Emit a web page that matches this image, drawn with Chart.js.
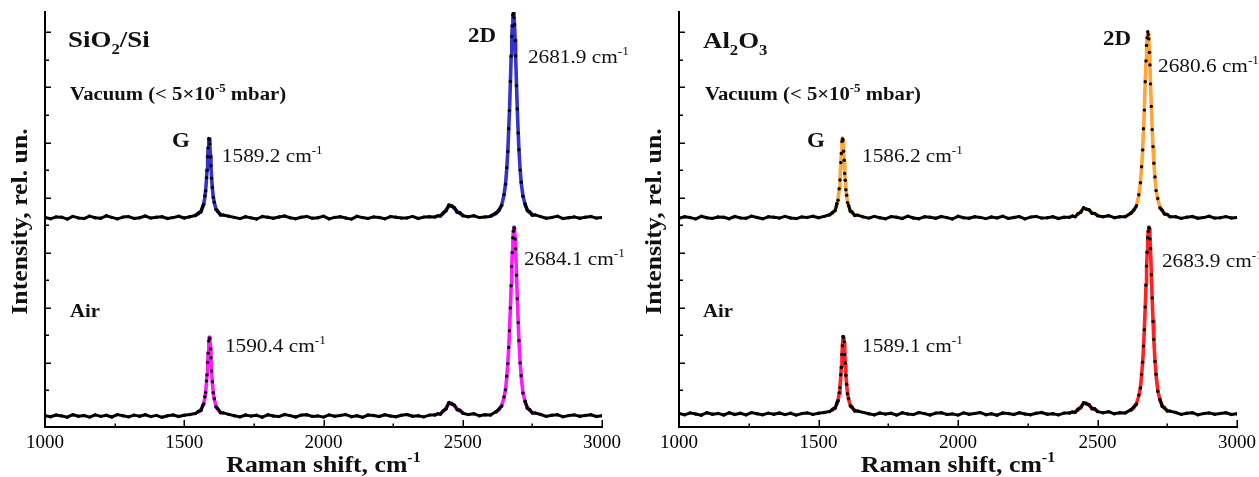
<!DOCTYPE html>
<html>
<head>
<meta charset="utf-8">
<script src="https://cdn.jsdelivr.net/npm/chart.js@4.4.1/dist/chart.umd.min.js"></script>
<style>
  html, body { margin: 0; padding: 0; background: #fff; }
  #wrap { position: relative; width: 1259px; height: 477px; overflow: hidden; }
  #cl { position: absolute; left: 0; top: 0; }
  #cr { position: absolute; left: 640px; top: 0; }
</style>
</head>
<body>
<div id="wrap">
  <canvas id="cl" width="640" height="477"></canvas>
  <canvas id="cr" width="619" height="477"></canvas>
</div>
<script>
// ---------------- DATA ----------------
// Raman shift grid of the measured spectra (cm-1)
const shift = [
  1000,1020,1040,1060,1080,1100,1120,1140,1160,1180,1200,1220,1240,1260,1280,1300,1320,1340,1360,1380,1400,1420,1440,1460,1480,1500,1520,1540,
  1550,1560,1566,1570,1574,1577,1580,1582,1584,1586,1588,1590,1592,1594,1596,1598,1601,1604,1608,1614,1620,1630,1640,
  1660,1680,1700,1720,1740,1760,1780,1800,1820,1840,1860,1880,1900,1920,1940,1960,1980,2000,2020,2040,2060,2080,2100,2120,2140,2160,2180,2200,2220,2240,2260,2280,2300,2320,2340,2360,2380,2400,
  2410,2420,2430,2440,2450,2460,2470,2480,2490,2500,
  2520,2540,2560,2580,2600,2620,
  2630,2640,2648,2654,2658,2662,2665,2668,2671,2674,2676,2678,2680,2682,2684,2686,2688,2690,2693,2696,2699,2702,2706,2710,2716,2724,2732,2740,2750,2760,
  2780,2800,2820,2840,2860,2880,2900,2920,2940,2960,2980,3000
];
// Raman shift grid of the fitted curves (cm-1)
const fitShift = [
  1000,1540,
  1550,1560,1566,1570,1574,1577,1580,1582,1584,1586,1588,1590,1592,1594,1596,1598,1601,1604,1608,1614,1620,1630,1640,
  1660,2380,2400,
  2410,2420,2430,2440,2450,2460,2470,2480,2490,2500,
  2520,2540,2560,2580,2600,2620,
  2630,2640,2648,2654,2658,2662,2665,2668,2671,2674,2676,2678,2680,2682,2684,2686,2688,2690,2693,2696,2699,2702,2706,2710,2716,2724,2732,2740,2750,2760,
  2780,2800,3000
];

// SiO2/Si - vacuum (offset spectrum)
const sio2Vacuum = [
  209.5,208.2,210.1,209.8,207.9,210.6,209.1,208.4,210.9,209.3,208.7,211.2,209.6,208.1,209.9,210.4,208.6,209.2,211.0,208.9,209.7,210.3,208.5,209.4,210.8,209.0,210.2,211.5,
  213.8,215.1,220.6,222.5,231.0,236.1,249.3,256.6,270.2,279.1,288.5,287.0,283.1,270.0,261.2,248.7,239.5,229.6,224.8,217.4,216.1,211.9,212.0,
  210.8,209.6,208.4,210.2,209.1,208.0,210.5,209.7,208.8,210.0,211.0,209.2,208.3,209.8,210.6,208.7,209.3,210.9,208.1,209.6,210.3,209.0,207.9,210.7,209.4,208.6,210.1,209.5,208.2,210.4,209.8,208.9,209.1,210.6,208.5,209.9,210.2,210.0,
  211.2,210.9,214.3,216.2,222.0,220.8,219.4,214.6,214.2,211.3,
  210.3,211.2,209.4,210.1,210.6,214.2,
  217.1,221.5,232.4,242.8,259.3,275.5,298.3,316.4,345.5,370.8,390.6,401.0,412.0,413.5,409.4,402.3,386.4,371.0,341.2,318.1,294.0,277.3,256.9,244.8,230.7,223.0,216.3,215.2,211.8,212.1,
  210.4,208.7,209.6,210.8,208.4,209.3,210.1,208.8,209.7,210.5,208.9,209.4
];
const sio2VacuumFit = [
  209,211.6,
  213,216,219.5,223.4,229.8,237.2,248.1,257.8,269,280,287.6,288.2,282,271.2,260,249.9,238.4,230.6,223.9,218.3,215.3,212.7,211.4,
  210.3,209,210,
  210.5,211.5,213.5,217,221,221.5,218.5,215.5,213.5,212,
  211,210.5,210,209.5,211.1,213.5,
  216.4,222.3,231.6,243.9,258.2,276.7,297.2,317.7,344.3,372,389.4,402.1,411.3,414,410.5,401.1,387.6,369.9,342.3,317,295.1,276.2,257.8,243.9,231.6,222.1,217.2,214.5,212.5,211.3,
  210,209,209
];
// SiO2/Si - air
const sio2Air = [
  11.4,10.2,12.0,11.1,9.8,12.3,10.7,11.5,9.9,12.1,10.6,11.8,10.0,12.4,11.2,10.1,11.9,10.8,12.2,10.4,11.6,9.7,11.3,12.0,10.5,11.7,12.4,13.4,
  15.6,16.5,21.4,23.0,30.3,34.5,46.0,52.1,64.6,73.7,85.9,88.9,88.5,78.0,69.2,56.0,45.2,34.2,28.3,20.1,18.5,14.2,14.1,
  12.6,11.3,10.1,12.0,10.9,11.7,9.8,12.2,11.0,10.4,12.5,11.4,10.0,11.9,12.3,10.6,11.1,9.9,12.1,10.8,11.6,12.4,10.3,11.2,9.7,12.0,11.5,10.5,12.2,11.0,10.2,11.8,12.5,10.7,11.3,10.1,11.9,12.0,
  13.2,12.8,16.4,18.1,24.5,23.0,21.9,17.2,16.8,13.8,
  12.4,13.3,11.2,12.3,12.0,15.5,
  18.0,21.0,30.1,37.3,50.8,63.4,79.6,96.2,119.1,141.2,160.5,174.4,189.2,195.7,199.3,198.6,187.9,178.2,151.7,128.3,104.4,86.4,64.1,51.2,33.9,25.7,18.7,17.5,13.9,14.0,
  12.5,10.6,11.8,12.3,10.2,11.4,12.1,10.8,11.6,12.2,10.5,11.3
];
const sio2AirFit = [
  11,13.4,
  14.7,17.4,20.5,23.9,29.2,35.6,44.8,53.2,63.5,74.8,84.8,89.8,87.6,79.1,68,57.1,44.1,35.1,27.4,21,17.7,14.9,13.5,
  12.3,11,12,
  12.5,13.5,15.5,19,23.5,24,21,18,16,14.5,
  13.2,12.5,12,11.5,12.7,14.8,
  17.2,21.8,29,38.4,49.7,64.5,78.5,97.4,118,142.4,159.4,175.6,188.1,196.8,200,197.5,189,177.1,152.8,127.2,105.5,85.3,65.2,50.1,34.8,24.8,19.5,16.7,14.6,13.3,
  12.1,11,11
];
// Al2O3 - vacuum (offset spectrum)
const al2o3Vacuum = [
  208.8,210.3,209.4,208.1,210.7,209.2,208.6,210.0,209.8,208.3,210.5,209.1,208.7,210.9,209.5,208.2,210.2,209.7,208.9,210.6,209.0,208.4,210.1,209.6,210.8,209.3,210.6,212.2,
  214.5,216.4,223.4,226.8,238.3,247.0,264.4,273.5,285.6,288.1,287.1,275.8,266.7,253.5,246.7,237.3,231.7,224.4,221.6,215.7,215.1,211.4,211.9,
  210.1,208.9,210.6,209.3,208.2,210.4,209.7,208.5,210.9,209.0,208.3,210.2,209.8,208.7,210.5,209.4,208.0,210.7,209.2,208.8,210.3,209.6,208.4,210.0,209.1,210.8,208.6,209.5,210.4,208.1,209.9,210.6,208.9,209.3,210.2,208.5,209.8,209.7,
  211.0,210.3,213.2,214.8,219.3,217.7,217.2,213.8,213.6,211.3,
  210.2,211.3,209.3,210.2,210.3,214.0,
  217.0,221.2,232.2,244.2,260.3,277.1,298.3,316.9,345.3,366.1,381.6,389.3,395.3,392.4,388.1,374.6,362.1,343.1,320.6,297.4,280.4,263.7,250.1,236.4,228.5,219.1,216.7,212.9,212.6,210.2,
  210.3,208.6,209.8,210.5,208.7,209.4,210.7,208.9,209.2,210.4,209.0,209.6
];
const al2o3VacuumFit = [
  209,212,
  213.6,217.5,222.3,227.9,237.2,248.1,263.2,274.7,284.5,289,286,276.9,265.6,254.7,245.6,238.4,230.6,225.3,220.7,216.6,214.3,212.2,211.2,
  210.2,209,210,
  210.2,211,212.5,215.5,218.5,218.5,216.5,214.5,213,212,
  211,210.5,210,209.5,210.9,213.3,
  216.3,222,231.3,245.3,259.2,278.2,297.2,318,344.2,367.3,380.5,390.4,394.6,393.5,387,375.7,361,344.2,319.5,298.5,279.3,264.8,249,237.3,227.6,220,215.9,213.7,212,210.9,
  209.9,209,209
];
// Al2O3 - air
const al2o3Air = [
  13.5,12.2,14.1,13.0,11.8,14.3,12.7,13.6,12.0,14.2,12.5,13.8,12.1,14.4,13.2,12.3,13.9,12.8,14.0,12.4,13.7,11.9,13.4,14.1,12.6,13.8,14.5,15.4,
  17.7,18.9,24.1,26.2,34.4,39.4,52.3,59.5,72.6,81.2,90.6,89.1,85.2,72.5,63.9,51.8,42.8,33.2,28.4,21.1,20.0,15.9,16.0,
  14.6,13.3,12.1,14.0,12.9,13.7,11.9,14.2,13.0,12.4,14.5,13.4,12.0,13.9,14.3,12.6,13.1,11.9,14.1,12.8,13.6,14.4,12.3,13.2,11.8,14.0,13.5,12.5,14.2,13.0,12.2,13.8,14.5,12.7,13.3,12.1,13.9,14.0,
  15.0,14.6,17.9,19.2,24.3,23.1,22.4,18.3,18.2,15.4,
  14.3,15.3,13.2,14.2,14.1,17.4,
  20.0,22.9,31.9,39.0,52.4,64.8,80.9,97.3,119.9,141.8,160.9,174.7,189.3,195.6,199.2,198.7,188.1,178.5,152.2,129.1,105.4,87.6,65.6,52.8,35.7,27.6,20.6,19.4,15.9,15.9,
  14.5,12.6,13.8,14.3,12.2,13.4,14.1,12.8,13.6,14.2,12.5,13.3
];
const al2o3AirFit = [
  13,15.4,
  16.9,19.8,23.2,27,33.3,40.5,51.1,60.6,71.5,82.3,89.7,90.2,84.1,73.7,62.7,52.9,41.7,34.1,27.5,22,19.2,16.6,15.3,
  14.3,13,14,
  14.3,15.2,17,20,23.5,24,21.5,19,17.5,16,
  15,14.5,14,13.5,14.7,16.7,
  19.2,23.7,30.8,40.1,51.3,65.9,79.8,98.5,118.8,143,159.8,175.9,188.2,196.8,200,197.6,189.2,177.4,153.3,128,106.5,86.5,66.7,51.7,36.6,26.7,21.4,18.6,16.6,15.2,
  14.1,13,13
];

// Axis ticks
const xTickStep = 500;
const xMinorTicks = [1250, 1750, 2250, 2750];
const xMajorTicks = [1500, 2000, 2500, 3000];
const yTicks = [37, 64.5, 92, 119.5, 147, 174.5, 202, 229.5, 257, 284.5, 312, 339.5, 367, 394.5];

// ---------------- CHECK ----------------
[sio2Vacuum, sio2Air, al2o3Vacuum, al2o3Air].forEach((a, i) => {
  if (a.length !== shift.length) throw new Error('data length mismatch ' + i + ': ' + a.length + ' vs ' + shift.length);
});
[sio2VacuumFit, sio2AirFit, al2o3VacuumFit, al2o3AirFit].forEach((a, i) => {
  if (a.length !== fitShift.length) throw new Error('fit length mismatch ' + i + ': ' + a.length + ' vs ' + fitShift.length);
});

// ---------------- DRAWING ----------------
const FONT = '"Liberation Serif", "Times New Roman", serif';
const SX = 1.12;
Chart.defaults.font.family = FONT;
Chart.defaults.color = '#000';

function segFont(size, bold, kind) {
  const s = kind ? size * 0.62 : size;
  return (bold ? 'bold ' : '') + s.toFixed(1) + 'px ' + FONT;
}
function richWidth(ctx, segs, size, bold) {
  let w = 0;
  segs.forEach(s => { ctx.font = segFont(size, bold, s[1]); w += ctx.measureText(s[0]).width; });
  return w;
}
function drawRich(ctx, x, y, segs, size, bold, sx, align, rotate) {
  ctx.save();
  ctx.translate(x, y);
  if (rotate) ctx.rotate(-Math.PI / 2);
  ctx.scale(sx, 1);
  ctx.fillStyle = '#111';
  ctx.textBaseline = 'alphabetic';
  ctx.textAlign = 'left';
  let cx = align === 'center' ? -richWidth(ctx, segs, size, bold) / 2 : 0;
  segs.forEach(s => {
    ctx.font = segFont(size, bold, s[1]);
    const dy = s[1] === 'sup' ? -size * 0.42 : (s[1] === 'sub' ? size * 0.28 : 0);
    ctx.fillText(s[0], cx, dy);
    cx += ctx.measureText(s[0]).width;
  });
  ctx.restore();
}

function makeDecor(items, yTitleX) {
  return {
    id: 'decor',
    afterDraw(chart) {
      const ctx = chart.ctx, xs = chart.scales.x, ys = chart.scales.y, a = chart.chartArea;
      ctx.save();
      ctx.strokeStyle = '#000';
      ctx.lineWidth = 1.5;
      yTicks.forEach((v, i) => {
        const py = Math.round(ys.getPixelForValue(v)) + 0.25;
        const len = (i % 2 === 1) ? 6 : 4;
        ctx.beginPath(); ctx.moveTo(a.left, py); ctx.lineTo(a.left + len, py); ctx.stroke();
      });
      xMajorTicks.forEach(v => {
        const px = Math.round(xs.getPixelForValue(v)) + 0.25;
        ctx.beginPath(); ctx.moveTo(px, a.bottom); ctx.lineTo(px, a.bottom - 7); ctx.stroke();
      });
      xMinorTicks.forEach(v => {
        const px = Math.round(xs.getPixelForValue(v)) + 0.25;
        ctx.beginPath(); ctx.moveTo(px, a.bottom); ctx.lineTo(px, a.bottom - 3.5); ctx.stroke();
      });
      ctx.restore();
      items.forEach(it => {
        drawRich(ctx, xs.getPixelForValue(it.x), ys.getPixelForValue(it.y), it.segs, it.size, it.bold, SX, 'left', false);
      });
      drawRich(ctx, (a.left + a.right) / 2, 472, [['Raman shift, cm'], ['-1', 'sup']], 23, true, SX, 'center', false);
      drawRich(ctx, yTitleX, (a.top + a.bottom) / 2 + 2, [['Intensity, rel. un.']], 23, true, SX, 'center', true);
    }
  };
}

function segColor(floor) {
  return c => (c.p0.parsed.y > floor || c.p1.parsed.y > floor) ? 'rgba(0,0,0,0)' : '#000';
}
function fitSegColor(floor, color) {
  return c => (c.p0.parsed.y < floor && c.p1.parsed.y < floor) ? 'rgba(0,0,0,0)' : color;
}
function pts(xs, ys) { return xs.map((x, i) => ({ x: x, y: ys[i] })); }

function dataSet(values, floor) {
  return {
    data: pts(shift, values), order: 0,
    borderColor: '#000', borderWidth: 3, borderJoinStyle: 'round', borderCapStyle: 'round',
    pointRadius: 1.7, pointBackgroundColor: '#000', pointBorderWidth: 0, pointHoverRadius: 0,
    segment: { borderColor: segColor(floor) }, tension: 0
  };
}
function fitSet(values, color, floor) {
  return {
    data: pts(fitShift, values), order: 1,
    borderColor: color, borderWidth: 3.6, borderJoinStyle: 'round', borderCapStyle: 'round',
    pointRadius: 0, tension: 0,
    segment: { borderColor: fitSegColor(floor, color) }
  };
}

function makeChart(id, sets, padRight, yWidth, items, yTitleX) {
  return new Chart(document.getElementById(id), {
    type: 'line',
    data: { datasets: sets },
    options: {
      responsive: false, animation: false, devicePixelRatio: 1,
      layout: { padding: { top: 12, right: padRight, left: 0, bottom: 0 } },
      plugins: { legend: { display: false }, tooltip: { enabled: false } },
      scales: {
        x: {
          type: 'linear', min: 1000, max: 3000,
          grid: { display: false },
          border: { display: true, color: '#000', width: 2 },
          ticks: { stepSize: xTickStep, padding: -3, color: '#000', font: { family: FONT, size: 19 },
                   callback: v => String(v) },
          afterFit: s => { s.height = 50; }
        },
        y: {
          min: 0, max: 415,
          grid: { display: false },
          border: { display: true, color: '#000', width: 2 },
          ticks: { display: false },
          afterFit: s => { s.width = yWidth; }
        }
      }
    },
    plugins: [makeDecor(items, yTitleX)]
  });
}

const leftItems = [
  { x: 1083, y: 380, segs: [['SiO'], ['2', 'sub'], ['/Si']], size: 24, bold: true },
  { x: 1090, y: 327, segs: [['Vacuum (< 5×10'], ['-5', 'sup'], [' mbar)']], size: 18.5, bold: true },
  { x: 1456, y: 280, segs: [['G']], size: 20.5, bold: true },
  { x: 1635, y: 265, segs: [['1589.2 cm'], ['-1', 'sup']], size: 19, bold: false },
  { x: 2519, y: 385, segs: [['2D']], size: 20.5, bold: true },
  { x: 2734, y: 364, segs: [['2681.9 cm'], ['-1', 'sup']], size: 19, bold: false },
  { x: 1090, y: 110, segs: [['Air']], size: 18.5, bold: true },
  { x: 1646, y: 75, segs: [['1590.4 cm'], ['-1', 'sup']], size: 19, bold: false },
  { x: 2720, y: 162, segs: [['2684.1 cm'], ['-1', 'sup']], size: 19, bold: false }
];
const rightItems = [
  { x: 1086, y: 379, segs: [['Al'], ['2', 'sub'], ['O'], ['3', 'sub']], size: 24, bold: true },
  { x: 1093, y: 327, segs: [['Vacuum (< 5×10'], ['-5', 'sup'], [' mbar)']], size: 18.5, bold: true },
  { x: 1459, y: 280, segs: [['G']], size: 20.5, bold: true },
  { x: 1656, y: 265, segs: [['1586.2 cm'], ['-1', 'sup']], size: 19, bold: false },
  { x: 2520, y: 382, segs: [['2D']], size: 20.5, bold: true },
  { x: 2717, y: 355, segs: [['2680.6 cm'], ['-1', 'sup']], size: 19, bold: false },
  { x: 1086, y: 110, segs: [['Air']], size: 18.5, bold: true },
  { x: 1656, y: 75, segs: [['1589.1 cm'], ['-1', 'sup']], size: 19, bold: false },
  { x: 2731, y: 160, segs: [['2683.9 cm'], ['-1', 'sup']], size: 19, bold: false }
];

makeChart('cl', [
  dataSet(sio2Vacuum, 224), dataSet(sio2Air, 26),
  fitSet(sio2VacuumFit, '#3434c8', 213), fitSet(sio2AirFit, '#ff1aff', 15)
], 38, 45, leftItems, 27);

makeChart('cr', [
  dataSet(al2o3Vacuum, 224), dataSet(al2o3Air, 28),
  fitSet(al2o3VacuumFit, '#ffa53a', 213), fitSet(al2o3AirFit, '#ff2222', 17)
], 22, 39, rightItems, 21);
</script>
</body>
</html>
